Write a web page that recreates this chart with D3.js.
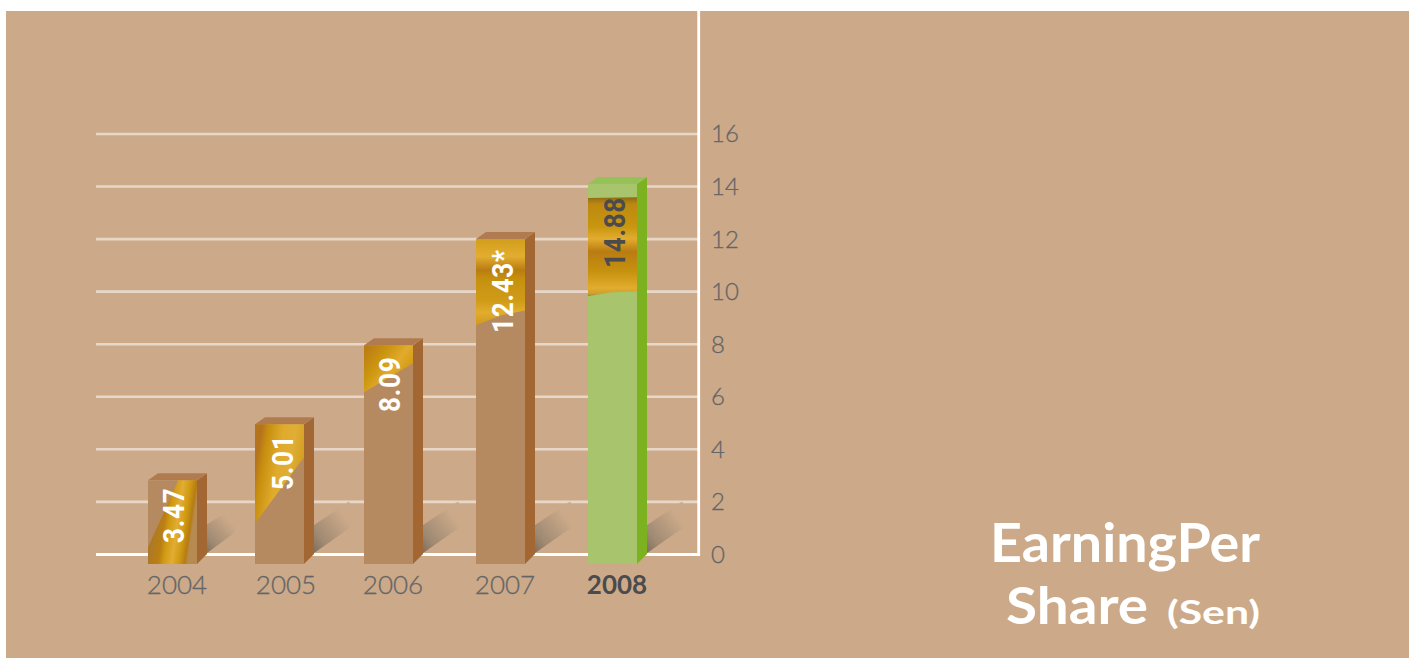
<!DOCTYPE html>
<html><head><meta charset="utf-8">
<script src="https://d3js.org/d3.v7.min.js"></script>
<style>html,body{margin:0;padding:0;background:#fff;overflow:hidden}svg{display:block}</style>
</head><body><svg id="c" width="1409" height="658"></svg>
<script>
const years = ["2004","2005","2006","2007","2008"];
const valueLabels = ["3.47","5.01","8.09","12.43*","14.88"];
// bar tops as they read against the axis in the picture
const barLevels = [2.82,4.95,7.96,12.0,14.1];
const yTicks = [0,2,4,6,8,10,12,14,16];
const titleLines = ["EarningPer","Share"];
const unitLabel = "(Sen)";

const svg = d3.select("#c");
const defs = svg.append("defs");
const y = d3.scaleLinear().domain([0,16]).range([554.4,134]);
const x = d3.scaleOrdinal().domain(years).range([148,255,364,476,588]);
const barW = 49, depthX = 10, depthY = 7;
const baseY = 564;
const highlight = "2008";

svg.append("rect").attr("x",6).attr("y",11).attr("width",1403).attr("height",647).attr("fill","#ccaa89");

function gold(id,x1,y1,x2,y2,stops){
  const g = defs.append("linearGradient").attr("id",id).attr("gradientUnits","objectBoundingBox")
    .attr("x1",x1).attr("y1",y1).attr("x2",x2).attr("y2",y2);
  stops.forEach(s=>g.append("stop").attr("offset",s[0]).attr("stop-color",s[1]));
}
gold("g0",0.1,0.4,0.9,0.6,[[0,"#a9782a"],[.3,"#bb7f12"],[.42,"#cf9a12"],[.62,"#e2ad32"],[.8,"#cf9914"],[.94,"#b67c12"],[1,"#b68a50"]]);
gold("g1",0.05,0.3,0.95,0.6,[[0,"#b5741c"],[.14,"#c88f0e"],[.45,"#e0ab2c"],[.7,"#e0ae36"],[1,"#cf9c1c"]]);
gold("g2",0,0.15,1,0.85,[[0,"#bb7d14"],[.3,"#cc960f"],[.55,"#e2ab2c"],[.8,"#d09a14"],[1,"#c98f14"]]);
gold("g3",0,0,0,1,[[0,"#d29e1c"],[.2,"#e3ad30"],[.36,"#b97c12"],[.46,"#c6900e"],[.72,"#d09c18"],[.85,"#e2ac2e"],[1,"#cf9a1c"]]);
gold("g4",0,0,0,1,[[0,"#8f6a14"],[.07,"#bd8810"],[.3,"#c9960f"],[.42,"#e2ac2e"],[.55,"#b97c12"],[.75,"#c6920e"],[.92,"#e2ac2e"],[.98,"#c8a030"],[1,"#8f7a20"]]);
const sg = defs.append("linearGradient").attr("id","sh").attr("x1",0).attr("y1",1).attr("x2",0.85).attr("y2",0.25);
sg.append("stop").attr("offset",0).attr("stop-color","#7a6a59");
sg.append("stop").attr("offset",.3).attr("stop-color","#a08a73");
sg.append("stop").attr("offset",.88).attr("stop-color","#ccaa89");

// grid
svg.append("g").selectAll("line").data(yTicks.filter(d=>d>0)).join("line")
  .attr("x1",96).attr("x2",698).attr("y1",d=>y(d)).attr("y2",d=>y(d))
  .attr("stroke","#e7d7c8").attr("stroke-width",2.6);
svg.append("line").attr("x1",96).attr("x2",700).attr("y1",y(0)).attr("y2",y(0)).attr("stroke","#fff").attr("stroke-width",3);
svg.append("line").attr("x1",698.7).attr("x2",698.7).attr("y1",11).attr("y2",y(0)+1.5).attr("stroke","#fff").attr("stroke-width",2.8);

// y axis
const axis = d3.axisRight(y).tickValues(yTicks).tickSize(0).tickPadding(0).tickFormat(d3.format("d"));
const ag = svg.append("g").attr("transform","translate(711,0)").call(axis);
ag.select(".domain").remove();
ag.selectAll("text").attr("font-family","Lato").attr("font-size",24).attr("font-weight",300)
  .attr("fill","#656567").attr("stroke","#656567").attr("stroke-width",0.3).attr("dy","0.33em");

// bars
const rows = years.map((yr,i)=>({yr,i,level:barLevels[i],label:valueLabels[i]}));
const bars = svg.append("g").selectAll("g").data(rows).join("g");
const line = d3.line();
// shadow
bars.append("path").attr("fill","url(#sh)").attr("d",d=>{
  const r=x(d.yr)+barW+depthX, y0=y(0);
  const pts = d.i===0
    ? [[r-2,y0],[r-2,y0-29],[r+16,y0-40],[r+31,y0-40],[r+40,y0-31]]
    : [[r-2,y0],[r-2,y0-28],[r+35,y0-53],[r+45,y0-33]];
  return line(pts)+"Z";
});
// side
bars.append("path").attr("fill",d=>d.yr===highlight?"#7cb21f":"#a26733").attr("d",d=>{
  const l=x(d.yr)+barW,t=y(d.level);
  return line([[l,t],[l+depthX,t-depthY],[l+depthX,baseY-10],[l,baseY]])+"Z";
});
// top
bars.append("path").attr("fill",d=>d.yr===highlight?"#95c257":"#b07c4f").attr("d",d=>{
  const l=x(d.yr),t=y(d.level);
  return line([[l,t],[l+depthX,t-depthY],[l+barW+depthX,t-depthY],[l+barW,t]])+"Z";
});
// front
bars.append("rect").attr("x",d=>x(d.yr)).attr("y",d=>y(d.level)).attr("width",barW)
  .attr("height",d=>baseY-y(d.level)).attr("fill",d=>d.yr===highlight?"#a8c46c":"#b68a60");
// gold patch: fractions of the bar's front face
const patches = [
  [[.62,0],[1,0],[1,1],[0,1],[0,.8]],
  [[0,0],[1,0],[1,.235],[0,.71]],
  [[0,0],[1,0],[1,.082],[0,.215]],
  [[0,0],[1,0],[1,.22],[.5,.235],[0,.265]],
  [[0,.037],[1,.035],[1,.283],[.5,.285],[0,.295]]
];
bars.append("path").attr("fill",d=>`url(#g${d.i})`).attr("d",d=>{
  const l=x(d.yr),t=y(d.level),h=baseY-t;
  return line(patches[d.i].map(p=>[l+p[0]*barW,t+p[1]*h]))+"Z";
});
// rotated value labels
const labelBottom = [543,490,412,333,268];
const labelBase = [36,38,36,37,37];
bars.append("text").text(d=>d.label)
  .attr("transform",d=>`translate(${x(d.yr)+labelBase[d.i]},${labelBottom[d.i]}) rotate(-90) scale(0.9,1)`)
  .attr("font-family","Roboto").attr("font-weight",700).attr("font-size",29).attr("letter-spacing",0.8)
  .attr("fill",d=>d.yr===highlight?"#4b4b4d":"#fff");
// x labels
const xOff = [29,31,29,29,29];
bars.append("text").text(d=>d.yr).attr("x",d=>x(d.yr)+xOff[d.i]).attr("y",594).attr("text-anchor","middle")
  .attr("font-family","Lato").attr("font-size",26)
  .attr("font-weight",d=>d.yr===highlight?700:300)
  .attr("stroke",d=>d.yr===highlight?"none":"#656567").attr("stroke-width",0.3)
  .attr("fill",d=>d.yr===highlight?"#4b4b4d":"#656567");

// title
svg.append("text").attr("x",990).attr("y",562).text(titleLines[0])
  .attr("font-family","Lato").attr("font-weight",700).attr("font-size",54).attr("fill","#fff")
  .attr("textLength",270).attr("lengthAdjust","spacingAndGlyphs");
svg.append("text").attr("x",1006).attr("y",624).text(titleLines[1])
  .attr("font-family","Lato").attr("font-weight",700).attr("font-size",52).attr("fill","#fff")
  .attr("textLength",142).attr("lengthAdjust","spacingAndGlyphs");
svg.append("text").attr("x",1167).attr("y",624).text(unitLabel)
  .attr("font-family","Lato").attr("font-weight",700).attr("font-size",33).attr("fill","#fff")
  .attr("textLength",93).attr("lengthAdjust","spacingAndGlyphs");
</script></body></html>
